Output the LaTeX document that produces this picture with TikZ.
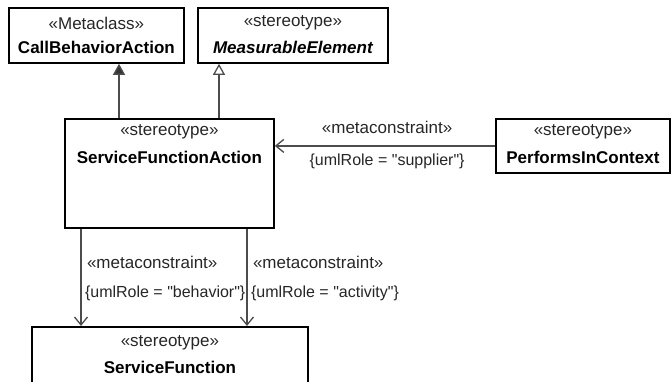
\documentclass[tikz,border=0pt]{standalone}
\usepackage{fontspec}
\setmainfont{Liberation Sans}
\newfontfamily\tagfont{Liberation Sans}
\usepackage{tikz}
\usetikzlibrary{
        arrows,
        arrows.meta,
        positioning
    }
\tikzset{>={Straight Barb[length=8pt,width=13pt,line width=1.3pt]},auto}
\tikzset{
        umlbox/.style={draw=black,line width=1.8pt,anchor=north west,inner sep=0pt},
        stereo/.style={font=\fontsize{17}{20}\selectfont,text=black!85},
        clsname/.style={font=\fontsize{17}{20}\selectfont\bfseries},
        assoc/.style={draw=black!70,line width=1.4pt},
        tagtext/.style={font=\fontsize{17}{20}\selectfont,text=black!85},
        roletext/.style={font=\tagfont\fontsize{16}{19}\selectfont,text=black!85}
    }

\begin{document}
\begin{tikzpicture}[x=1pt,y=1pt]
                        \useasboundingbox (0,0) rectangle (671,-381);
                        \clip (0,0) rectangle (671,-381);
                        % metaclass and base stereotype
                        \node[umlbox,minimum width=175pt,minimum height=55pt] (cba) at (8,-7) {};
                        \node[stereo] (cbas) at ([yshift=-16pt]cba.north) {«Metaclass»};
                        \node[clsname] (cban) at ([yshift=-40pt]cba.north) {CallBehaviorAction};
                        \node[umlbox,minimum width=190pt,minimum height=55pt] (me) at (197,-7) {};
                        \node[stereo] (mes) at ([yshift=-16pt]me.north) {«stereotype»};
                        \node[clsname] (men) at ([yshift=-40pt]me.north) {\itshape MeasurableElement};
                        % the action stereotype
                        \node[umlbox,minimum width=209pt,minimum height=109pt] (sfa) at (64,-118) {};
                        \node[stereo] (sfas) at ([yshift=-14pt]sfa.north) {«stereotype»};
                        \node[clsname] (sfan) at ([yshift=-39pt]sfa.north) {ServiceFunctionAction};
                        \node[umlbox,minimum width=174pt,minimum height=54pt] (pic) at (495,-118) {};
                        \node[stereo] (pics) at ([yshift=-14pt]pic.north) {«stereotype»};
                        \node[clsname] (picn) at ([yshift=-39pt]pic.north) {PerformsInContext};
                        \node[umlbox,minimum width=276pt,minimum height=80pt] (sf) at (31,-326) {};
                        \node[stereo] (sfs) at ([yshift=-17pt]sf.north) {«stereotype»};
                        \node[clsname] (sfn) at ([yshift=-41pt]sf.north) {ServiceFunction};
                        % generalizations
                        \draw[assoc,-{Triangle[length=11pt,width=12pt,fill=black!80]}]
                            ([xshift=55pt]sfa.north west) -- ([xshift=111pt]cba.south west);
                        \draw[assoc,-{Triangle[open,length=11pt,width=12pt,line width=1.3pt]}]
                            ([xshift=155pt]sfa.north west) -- ([xshift=22pt]me.south west);
                        % metaconstraints
                        \draw[assoc,->] (pic.west) -- (pic.west -| sfa.east)
                            node[tagtext,pos=0.49,above,yshift=8pt] {«metaconstraint»}
                            node[roletext,pos=0.49,below,yshift=-4pt] {\{umlRole = "supplier"\}};
                        \draw[assoc,->] ([xshift=17pt]sfa.south west) -- ([xshift=50pt]sf.north west)
                            node[tagtext,pos=0.35,right,xshift=2pt] {«metaconstraint»}
                            node[roletext,pos=0.66,right] {\{umlRole = "behavior"\}};
                        \draw[assoc,->] ([xshift=183pt]sfa.south west) -- ([xshift=216pt]sf.north west)
                            node[tagtext,pos=0.35,right,xshift=2pt] {«metaconstraint»}
                            node[roletext,pos=0.66,right] {\{umlRole = "activity"\}};
\end{tikzpicture}
\end{document}
